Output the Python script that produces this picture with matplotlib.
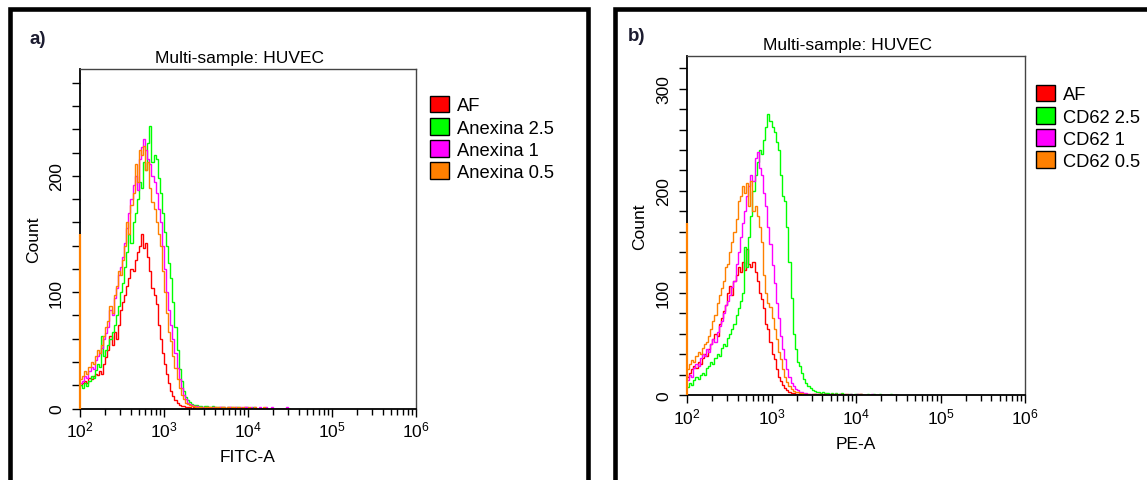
import numpy as np
import matplotlib
matplotlib.use("Agg")
import matplotlib.pyplot as plt
from matplotlib.patches import Patch, Rectangle
from matplotlib.ticker import LogLocator, MultipleLocator

plt.rcParams['font.family'] = ['Liberation Sans', 'DejaVu Sans']
plt.rcParams['mathtext.fontset'] = 'custom'
plt.rcParams['mathtext.rm'] = 'Liberation Sans'

# histogram channels: bins of 0.025 decade starting at 10^2
first_decade = 2.0
bin_step = 0.025

colors = ['#ff0000', '#00ff00', '#ff00ff', '#ff8000']
labels_a = ['AF', 'Anexina 2.5', 'Anexina 1', 'Anexina 0.5']
labels_b = ['AF', 'CD62 2.5', 'CD62 1', 'CD62 0.5']

# ---- panel a (FITC-A) counts per bin ----
af_a = [
    20, 22, 24, 22, 26, 25, 28, 30, 29, 32,
    30, 38, 44, 50, 62, 55, 66, 60, 72, 85,
    92, 98, 105, 112, 120, 118, 128, 135, 140, 150,
    138, 142, 130, 118, 104, 98, 90, 72, 60, 48,
    38, 30, 22, 15, 11, 7, 5, 3, 2, 2,
    1, 1, 1, 0, 1, 0, 0, 0, 0, 0,
    1, 0, 0, 1, 0, 0, 1, 0, 0, 0,
    0, 1, 0, 0, 0, 0, 0, 0, 1, 0,
    0, 0, 0, 0, 0, 0, 0, 0, 0, 0,
    0, 0, 0, 0, 0, 0, 0, 0, 0, 0,
]
anexina25_a = [
    20, 18, 22, 19, 24, 28, 26, 33, 38, 36,
    62, 45, 50, 55, 60, 66, 72, 80, 88, 100,
    108, 122, 135, 150, 142, 160, 168, 180, 195, 190,
    212, 205, 228, 243, 212, 218, 215, 198, 185, 168,
    152, 140, 125, 112, 92, 70, 50, 34, 24, 15,
    10, 7, 6, 4, 3, 3, 2, 2, 1, 2,
    2, 1, 1, 2, 1, 1, 0, 1, 1, 0,
    1, 0, 1, 0, 1, 1, 0, 0, 0, 1,
    0, 0, 1, 0, 0, 0, 0, 0, 0, 0,
    0, 0, 0, 0, 0, 0, 0, 0, 0, 0,
]
anexina1_a = [
    22, 24, 28, 26, 32, 36, 34, 42, 45, 48,
    52, 60, 65, 70, 85, 80, 95, 104, 115, 122,
    130, 142, 155, 168, 180, 192, 200, 188, 215, 225,
    232, 222, 215, 210, 200, 195, 185, 172, 160, 140,
    120, 100, 85, 72, 60, 48, 35, 25, 18, 12,
    8, 5, 4, 3, 2, 2, 1, 1, 1, 0,
    1, 1, 0, 1, 1, 0, 1, 1, 1, 0,
    1, 1, 0, 1, 1, 0, 1, 0, 1, 1,
    0, 1, 0, 1, 0, 1, 0, 0, 1, 0,
    0, 1, 0, 0, 0, 0, 0, 0, 1, 0,
]
anexina05_a = [
    25, 28, 32, 30, 36, 40, 38, 45, 50, 48,
    55, 62, 70, 75, 88, 82, 98, 105, 118, 115,
    128, 140, 160, 150, 175, 185, 210, 195, 222, 218,
    226, 205, 212, 190, 178, 172, 160, 150, 140, 118,
    100, 82, 66, 58, 45, 35, 25, 18, 12, 8,
    5, 4, 3, 2, 2, 1, 1, 1, 0, 1,
    1, 1, 1, 0, 1, 1, 0, 1, 1, 0,
    1, 0, 1, 1, 0, 1, 0, 1, 0, 0,
    1, 0, 0, 1, 0, 0, 0, 1, 0, 0,
    0, 0, 0, 0, 0, 0, 0, 0, 0, 0,
]
orange_pile_a = 150  # events piled on the lower edge (10^2)

# ---- panel b (PE-A) counts per bin ----
af_b = [
    18, 22, 25, 28, 26, 32, 30, 36, 40, 38,
    45, 50, 55, 60, 58, 70, 75, 82, 88, 100,
    107, 98, 112, 118, 125, 120, 130, 122, 143, 128,
    125, 130, 120, 112, 100, 94, 85, 70, 65, 52,
    40, 35, 25, 18, 14, 10, 7, 5, 3, 2,
    2, 1, 1, 1, 0, 1, 0, 0, 0, 0,
    1, 0, 1, 0, 0, 1, 0, 0, 1, 0,
    0, 0, 1, 0, 0, 0, 0, 0, 0, 0,
    0, 1, 0, 0, 0, 0, 0, 0, 0, 0,
    0, 0, 0, 0, 0, 0, 0, 0, 0, 0,
]
cd62_25_b = [
    8, 12, 10, 15, 18, 16, 20, 22, 20, 26,
    28, 32, 30, 36, 40, 38, 46, 50, 48, 56,
    60, 65, 70, 78, 85, 92, 100, 145, 125, 155,
    175, 200, 215, 228, 240, 236, 250, 262, 275, 268,
    262, 258, 248, 240, 215, 195, 190, 165, 130, 95,
    60, 45, 32, 28, 22, 16, 12, 9, 7, 5,
    4, 3, 3, 2, 3, 2, 2, 1, 2, 1,
    2, 1, 1, 2, 1, 0, 1, 1, 0, 1,
    1, 0, 1, 0, 0, 1, 0, 0, 1, 0,
    0, 1, 0, 0, 0, 0, 1, 0, 0, 0,
]
cd62_1_b = [
    15, 20, 18, 26, 30, 28, 36, 40, 38, 45,
    42, 50, 55, 52, 62, 68, 72, 80, 88, 92,
    98, 106, 112, 128, 140, 155, 168, 180, 195, 205,
    215, 210, 232, 238, 222, 215, 198, 185, 165, 148,
    127, 110, 90, 75, 58, 45, 35, 25, 18, 12,
    9, 6, 5, 3, 3, 2, 2, 1, 1, 1,
    1, 1, 1, 0, 1, 1, 0, 1, 0, 1,
    1, 0, 1, 0, 0, 1, 0, 1, 0, 0,
    1, 0, 1, 0, 0, 0, 0, 1, 0, 0,
    0, 0, 0, 0, 0, 0, 0, 0, 0, 0,
]
cd62_05_b = [
    25, 30, 34, 32, 38, 42, 40, 46, 50, 52,
    58, 65, 72, 78, 90, 98, 105, 112, 125, 128,
    140, 150, 160, 172, 190, 195, 205, 198, 208, 185,
    210, 180, 185, 175, 165, 150, 118, 100, 90, 86,
    75, 65, 55, 42, 35, 25, 18, 13, 9, 6,
    4, 3, 3, 2, 2, 1, 1, 1, 0, 1,
    1, 0, 1, 1, 0, 1, 0, 0, 1, 0,
    1, 0, 0, 1, 0, 1, 0, 0, 0, 0,
    0, 0, 1, 0, 0, 0, 0, 0, 0, 0,
    0, 0, 0, 0, 0, 0, 0, 0, 0, 0,
]
orange_pile_b = 168

W, H = 1147, 481
fig = plt.figure(figsize=(W / 100, H / 100), dpi=100)


def px_axes(left, top, right, bottom):
    return fig.add_axes([left / W, 1 - bottom / H, (right - left) / W, (bottom - top) / H])


def draw_panel(ax, series, labels, pile, ymax, xlabel, legend_xy):
    n = len(series[0])
    edges = 10 ** (first_decade + bin_step * np.arange(n + 1))
    for vals, col in zip(series, colors):
        ax.stairs(vals, edges, baseline=None, color=col, lw=1.0)
    ax.vlines(edges[0], 0, pile, color=colors[3], lw=1.6, zorder=3, clip_on=False)

    ax.set_xscale('log')
    ax.set_xlim(1e2, 1e6)
    ax.set_ylim(0, ymax)
    ax.yaxis.set_major_locator(MultipleLocator(100))
    ax.yaxis.set_minor_locator(MultipleLocator(20))
    ax.xaxis.set_major_locator(LogLocator(base=10))
    ax.xaxis.set_minor_locator(LogLocator(base=10, subs=range(2, 10)))
    ax.tick_params(which='both', direction='out', width=1, color='black', labelsize=12.5)
    ax.tick_params(axis='y', which='both', length=5.5, pad=6, labelrotation=90)
    ax.tick_params(axis='x', which='major', length=6, pad=2)
    ax.tick_params(axis='x', which='minor', length=4)
    for lbl in ax.get_yticklabels():
        lbl.set_va('center')
    for side in ['left', 'bottom']:
        ax.spines[side].set_linewidth(1.3)
        ax.spines[side].set_color('black')
    for side in ['top', 'right']:
        ax.spines[side].set_linewidth(1.0)
        ax.spines[side].set_color('#444444')

    ax.set_title('Multi-sample: HUVEC', fontsize=12.5, x=0.476, pad=5)
    ax.set_xlabel(xlabel, fontsize=12.5, labelpad=7)
    ax.set_ylabel('Count', fontsize=12.5, va='center')
    ax.yaxis.set_label_coords(-47 / 337, 0.5)

    handles = [Patch(facecolor=c, edgecolor='black', lw=1) for c in colors]
    ax.legend(handles, labels, loc='upper left', frameon=False, fontsize=13.2,
              bbox_to_anchor=(legend_xy[0] / W, 1 - legend_xy[1] / H),
              bbox_transform=fig.transFigure, borderpad=0, borderaxespad=0,
              handlelength=1.05, handleheight=1.0, labelspacing=0.2, handletextpad=0.4)


ax_a = px_axes(80, 70, 416, 409.5)
draw_panel(ax_a, [af_a, anexina25_a, anexina1_a, anexina05_a], labels_a,
           orange_pile_a, 292, 'FITC-A', (430, 97))

ax_b = px_axes(687, 57, 1025, 396)
draw_panel(ax_b, [af_b, cd62_25_b, cd62_1_b, cd62_05_b], labels_b,
           orange_pile_b, 332, 'PE-A', (1036, 86))

# panel frames and letters
for x0, x1 in [(10, 587.5), (615, 1170)]:
    fig.add_artist(Rectangle((x0 / W, -20 / H), (x1 - x0) / W, (H + 20 - 9.5) / H,
                             transform=fig.transFigure, fill=False, lw=3.3,
                             ec='black', clip_on=False))
fig.text(29 / W, 1 - 40 / H, 'a)', fontsize=13.5, fontweight='bold', color='#1c1c30', va='center')
fig.text(628 / W, 1 - 37 / H, 'b)', fontsize=13.5, fontweight='bold', color='#1c1c30', va='center')

fig.savefig('out.png', dpi=100)
